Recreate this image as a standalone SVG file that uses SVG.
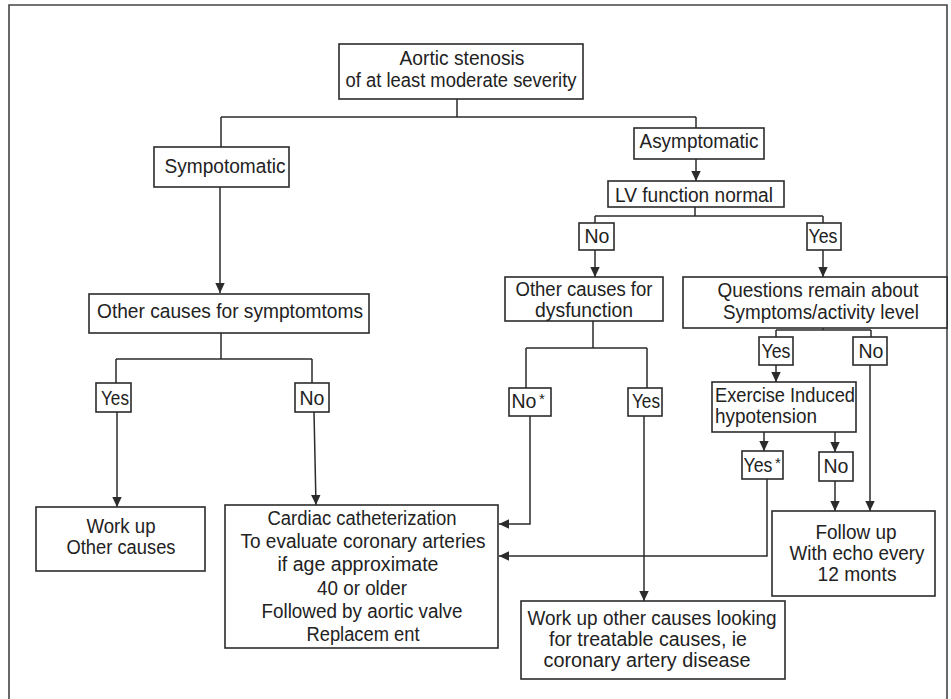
<svg xmlns="http://www.w3.org/2000/svg" width="951" height="699" viewBox="0 0 951 699">
<style>
.b{fill:#fff;stroke:#2b2b2b;stroke-width:1.6}
.c{fill:none;stroke:#2b2b2b;stroke-width:1.5}
.a{marker-end:url(#ah)}
text{font-family:"Liberation Sans",Arial,sans-serif;font-size:19.5px;fill:#222;text-anchor:middle}
.l{text-anchor:start}
.s{font-size:15px}
</style>
<defs>
<marker id="ah" markerUnits="userSpaceOnUse" markerWidth="10" markerHeight="13" viewBox="0 0 10 13" refX="10" refY="6.5" orient="auto">
<path d="M0,1.8 L10,6.5 L0,11.2 Z" fill="#2b2b2b"/>
</marker>
</defs>
<rect width="951" height="699" fill="#fff"/>
<path d="M9,699 V5 H947 V699" fill="none" stroke="#444" stroke-width="1.6"/>

<g id="connectors">
<path class="c" d="M457,99 V117 M221,117 H696 M221,117 V147 M696,117 V128"/>
<path class="c a" d="M220,187 V293"/>
<path class="c a" d="M696,159 V181"/>
<path class="c" d="M695,207 V216 M595,216 H823 M595,216 V223 M823,216 V223"/>
<path class="c a" d="M595,250 V277"/>
<path class="c a" d="M823,250 V277"/>
<path class="c" d="M221,333 V359 M116,359 H312 M116,359 V383 M312,359 V383"/>
<path class="c a" d="M117,412 V507"/>
<path class="c a" d="M314,412 L316,505"/>
<path class="c" d="M593,321 V348 M526,348 H647 M526,348 V388 M647,348 V388"/>
<path class="c a" d="M530,416 V524 H499"/>
<path class="c a" d="M644,416 V601"/>
<path class="c" d="M823,328 V330 M776,330 H871 M776,330 V337 M871,330 V337"/>
<path class="c a" d="M776,365 V382"/>
<path class="c a" d="M870,365 V511"/>
<path class="c a" d="M764,432 V451"/>
<path class="c a" d="M835,432 V452"/>
<path class="c a" d="M767,479 V556 H499"/>
<path class="c a" d="M835,481 V511"/>
</g>

<g id="n-root"><rect class="b" x="339" y="44" width="244" height="55"/>
<text x="462" y="65" textLength="125" lengthAdjust="spacingAndGlyphs">Aortic stenosis</text>
<text x="461" y="87" textLength="231" lengthAdjust="spacingAndGlyphs">of at least moderate severity</text></g>

<g id="n-symp"><rect class="b" x="154" y="147" width="135" height="40"/>
<text x="225" y="173" textLength="121" lengthAdjust="spacingAndGlyphs">Sympotomatic</text></g>

<g id="n-asymp"><rect class="b" x="634" y="128" width="130" height="31"/>
<text x="699" y="148" textLength="119" lengthAdjust="spacingAndGlyphs">Asymptomatic</text></g>

<g id="n-lv"><rect class="b" x="608" y="181" width="176" height="26"/>
<text x="694" y="202" textLength="158" lengthAdjust="spacingAndGlyphs">LV function normal</text></g>

<g id="n-lv-no"><rect class="b" x="579" y="223" width="35" height="27"/>
<text x="597" y="243">No</text></g>

<g id="n-lv-yes"><rect class="b" x="807" y="223" width="34" height="27"/>
<text x="823" y="243" textLength="29" lengthAdjust="spacingAndGlyphs">Yes</text></g>

<g id="n-other-symp"><rect class="b" x="89" y="294" width="280" height="39"/>
<text x="230" y="318" textLength="266" lengthAdjust="spacingAndGlyphs" style="font-size:20.5px">Other causes for symptomtoms</text></g>

<g id="n-dysf"><rect class="b" x="505" y="277" width="158" height="44"/>
<text x="584" y="296" textLength="137" lengthAdjust="spacingAndGlyphs">Other causes for</text>
<text x="584" y="317" textLength="98" lengthAdjust="spacingAndGlyphs">dysfunction</text></g>

<g id="n-questions"><rect class="b" x="683" y="277" width="264" height="51"/>
<text x="818" y="297" textLength="201" lengthAdjust="spacingAndGlyphs">Questions remain about</text>
<text x="821" y="319" textLength="196" lengthAdjust="spacingAndGlyphs">Symptoms/activity level</text></g>

<g id="n-symp-yes"><rect class="b" x="96" y="383" width="35" height="29"/>
<text x="115" y="405" textLength="28" lengthAdjust="spacingAndGlyphs">Yes</text></g>

<g id="n-symp-no"><rect class="b" x="295" y="383" width="34" height="29"/>
<text x="312" y="405">No</text></g>

<g id="n-dysf-no"><rect class="b" x="509" y="388" width="42" height="28"/>
<text x="524" y="408">No</text><text class="s" x="542" y="404">*</text></g>

<g id="n-dysf-yes"><rect class="b" x="628" y="388" width="34" height="28"/>
<text x="646" y="408" textLength="28" lengthAdjust="spacingAndGlyphs">Yes</text></g>

<g id="n-q-yes"><rect class="b" x="759" y="337" width="34" height="28"/>
<text x="776" y="358" textLength="29" lengthAdjust="spacingAndGlyphs">Yes</text></g>

<g id="n-q-no"><rect class="b" x="853" y="337" width="34" height="28"/>
<text x="871" y="358">No</text></g>

<g id="n-exercise"><rect class="b" x="712" y="382" width="144" height="50"/>
<text class="l" x="715" y="402" textLength="140" lengthAdjust="spacingAndGlyphs">Exercise Induced</text>
<text class="l" x="715" y="423" textLength="102" lengthAdjust="spacingAndGlyphs">hypotension</text></g>

<g id="n-ex-yes"><rect class="b" x="742" y="451" width="41" height="28"/>
<text x="758" y="472" textLength="29" lengthAdjust="spacingAndGlyphs">Yes</text><text class="s" x="778" y="468">*</text></g>

<g id="n-ex-no"><rect class="b" x="819" y="452" width="34" height="29"/>
<text x="836" y="473">No</text></g>

<g id="n-workup"><rect class="b" x="36" y="507" width="169" height="64"/>
<text x="121" y="533" textLength="69" lengthAdjust="spacingAndGlyphs">Work up</text>
<text x="121" y="554" textLength="109" lengthAdjust="spacingAndGlyphs">Other causes</text></g>

<g id="n-cardiac"><rect class="b" x="225" y="505" width="273" height="143"/>
<text x="362" y="525" textLength="189" lengthAdjust="spacingAndGlyphs">Cardiac catheterization</text>
<text x="363" y="548" textLength="245" lengthAdjust="spacingAndGlyphs">To evaluate coronary  arteries</text>
<text x="358" y="571" textLength="161" lengthAdjust="spacingAndGlyphs">if age approximate</text>
<text x="362" y="595" textLength="90" lengthAdjust="spacingAndGlyphs">40 or older</text>
<text x="362" y="618" textLength="201" lengthAdjust="spacingAndGlyphs">Followed by aortic valve</text>
<text x="363" y="641" textLength="113" lengthAdjust="spacingAndGlyphs">Replacem ent</text></g>

<g id="n-workup-other"><rect class="b" x="521" y="601" width="264" height="78"/>
<text x="652" y="625" textLength="249" lengthAdjust="spacingAndGlyphs">Work up other causes looking</text>
<text x="648" y="646" textLength="198" lengthAdjust="spacingAndGlyphs">for treatable causes, ie</text>
<text x="647" y="667" textLength="207" lengthAdjust="spacingAndGlyphs">coronary artery disease</text></g>

<g id="n-follow"><rect class="b" x="772" y="511" width="163" height="85"/>
<text x="856" y="539" textLength="81" lengthAdjust="spacingAndGlyphs">Follow up</text>
<text x="857" y="560" textLength="135" lengthAdjust="spacingAndGlyphs">With echo every</text>
<text x="857" y="581" textLength="79" lengthAdjust="spacingAndGlyphs">12 monts</text></g>
</svg>
